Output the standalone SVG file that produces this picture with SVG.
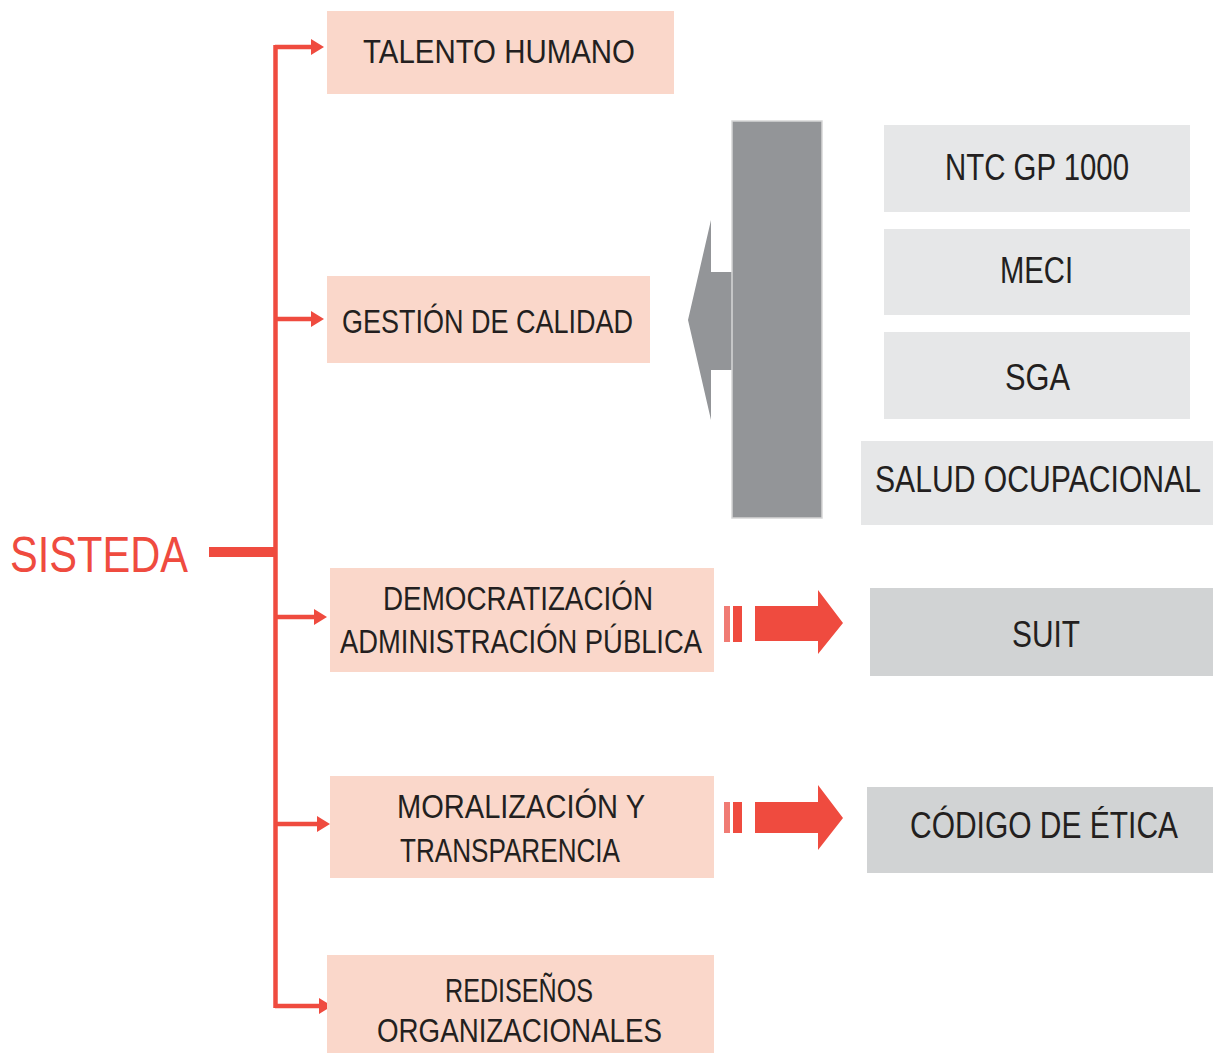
<svg xmlns="http://www.w3.org/2000/svg" width="1213" height="1053" viewBox="0 0 1213 1053">
  <style>
    .peach { fill: #fad7ca; }
    .light { fill: #e6e7e8; }
    .mid { fill: #d1d3d4; }
    .lbl { font-family: "Liberation Sans", "DejaVu Sans", sans-serif; font-size: 34px; fill: #231f20; }
    .lbr { font-family: "Liberation Sans", Arial, sans-serif; font-size: 37px; fill: #231f20; }
    .red { fill: #ef4b3f; }
    .wire { fill: none; stroke: #ef4b3f; stroke-width: 4.5; }
  </style>
  <rect width="1213" height="1053" fill="#ffffff"/>

  <!-- root -->
  <g id="sisteda">
    <text x="10" y="572" font-family="Liberation Sans, DejaVu Sans, sans-serif" font-size="50" fill="#ef4b3f" textLength="178" lengthAdjust="spacingAndGlyphs">SISTEDA</text>
  </g>

  <!-- tree connectors -->
  <g id="connectors">
    <rect x="209" y="547" width="67" height="10" class="red"/>
    <path class="wire" d="M275.5 45 V1008"/>
    <path class="wire" d="M275 47 H314 M275 319 H314 M275 617 H317 M275 824 H320 M275 1006 H322"/>
    <polygon class="red" points="311,39 324,47 311,55"/>
    <polygon class="red" points="311,311 324,319 311,327"/>
    <polygon class="red" points="314,609 327,617 314,625"/>
    <polygon class="red" points="317,816 330,824 317,832"/>
    <polygon class="red" points="319,998 332,1006 319,1014"/>

    <!-- double bar + block arrows -->
    <rect x="724" y="606" width="6" height="36" fill="#f07b74"/>
    <rect x="733" y="606" width="9" height="36" class="red"/>
    <polygon class="red" points="755,606 818,606 818,590 843,623 818,654 818,641 755,641"/>
    <rect x="724" y="802" width="6" height="31" fill="#f07b74"/>
    <rect x="733" y="802" width="9" height="31" class="red"/>
    <polygon class="red" points="755,802 818,802 818,785 843,818 818,850 818,833 755,833"/>

    <!-- grey bracket arrow -->
    <path d="M732 121 H822 V518 H732 V370 H711 V420 L688 320 L711 220 V272 H732 Z" fill="#939598"/>
    <rect x="732" y="121" width="90" height="397" fill="none" stroke="#d6d6d6" stroke-width="1.5"/>
  </g>

  <g id="talento-humano">
    <rect x="327" y="11" width="347" height="83" class="peach"/>
    <text x="363" y="63" class="lbl" textLength="272" lengthAdjust="spacingAndGlyphs">TALENTO HUMANO</text>
  </g>

  <g id="gestion-calidad">
    <rect x="327" y="276" width="323" height="87" class="peach"/>
    <text x="342" y="333" class="lbl" textLength="291" lengthAdjust="spacingAndGlyphs">GESTIÓN DE CALIDAD</text>
  </g>

  <g id="democratizacion">
    <rect x="330" y="568" width="384" height="104" class="peach"/>
    <text x="383" y="610" class="lbl" textLength="270" lengthAdjust="spacingAndGlyphs">DEMOCRATIZACIÓN</text>
    <text x="340" y="653" class="lbl" textLength="362" lengthAdjust="spacingAndGlyphs">ADMINISTRACIÓN PÚBLICA</text>
  </g>

  <g id="moralizacion">
    <rect x="330" y="776" width="384" height="102" class="peach"/>
    <text x="397" y="818" class="lbl" textLength="248" lengthAdjust="spacingAndGlyphs">MORALIZACIÓN Y</text>
    <text x="400" y="862" class="lbl" textLength="220" lengthAdjust="spacingAndGlyphs">TRANSPARENCIA</text>
  </g>

  <g id="redisenos">
    <rect x="327" y="955" width="387" height="98" class="peach"/>
    <text x="445" y="1002" class="lbl" textLength="148" lengthAdjust="spacingAndGlyphs">REDISEÑOS</text>
    <text x="377" y="1042" class="lbl" textLength="285" lengthAdjust="spacingAndGlyphs">ORGANIZACIONALES</text>
  </g>

  <g id="ntc-gp-1000">
    <rect x="884" y="125" width="306" height="87" class="light"/>
    <text x="945" y="180" class="lbr" textLength="184" lengthAdjust="spacingAndGlyphs">NTC GP 1000</text>
  </g>

  <g id="meci">
    <rect x="884" y="229" width="306" height="86" class="light"/>
    <text x="1000" y="283" class="lbr" textLength="73" lengthAdjust="spacingAndGlyphs">MECI</text>
  </g>

  <g id="sga">
    <rect x="884" y="332" width="306" height="87" class="light"/>
    <text x="1005" y="390" class="lbr" textLength="65" lengthAdjust="spacingAndGlyphs">SGA</text>
  </g>

  <g id="salud-ocupacional">
    <rect x="861" y="441" width="352" height="84" class="light"/>
    <text x="875" y="492" class="lbr" textLength="326" lengthAdjust="spacingAndGlyphs">SALUD OCUPACIONAL</text>
  </g>

  <g id="suit">
    <rect x="870" y="588" width="343" height="88" class="mid"/>
    <text x="1012" y="647" class="lbr" textLength="68" lengthAdjust="spacingAndGlyphs">SUIT</text>
  </g>

  <g id="codigo-etica">
    <rect x="867" y="787" width="346" height="86" class="mid"/>
    <text x="910" y="838" class="lbr" textLength="268" lengthAdjust="spacingAndGlyphs">CÓDIGO DE ÉTICA</text>
  </g>
</svg>
